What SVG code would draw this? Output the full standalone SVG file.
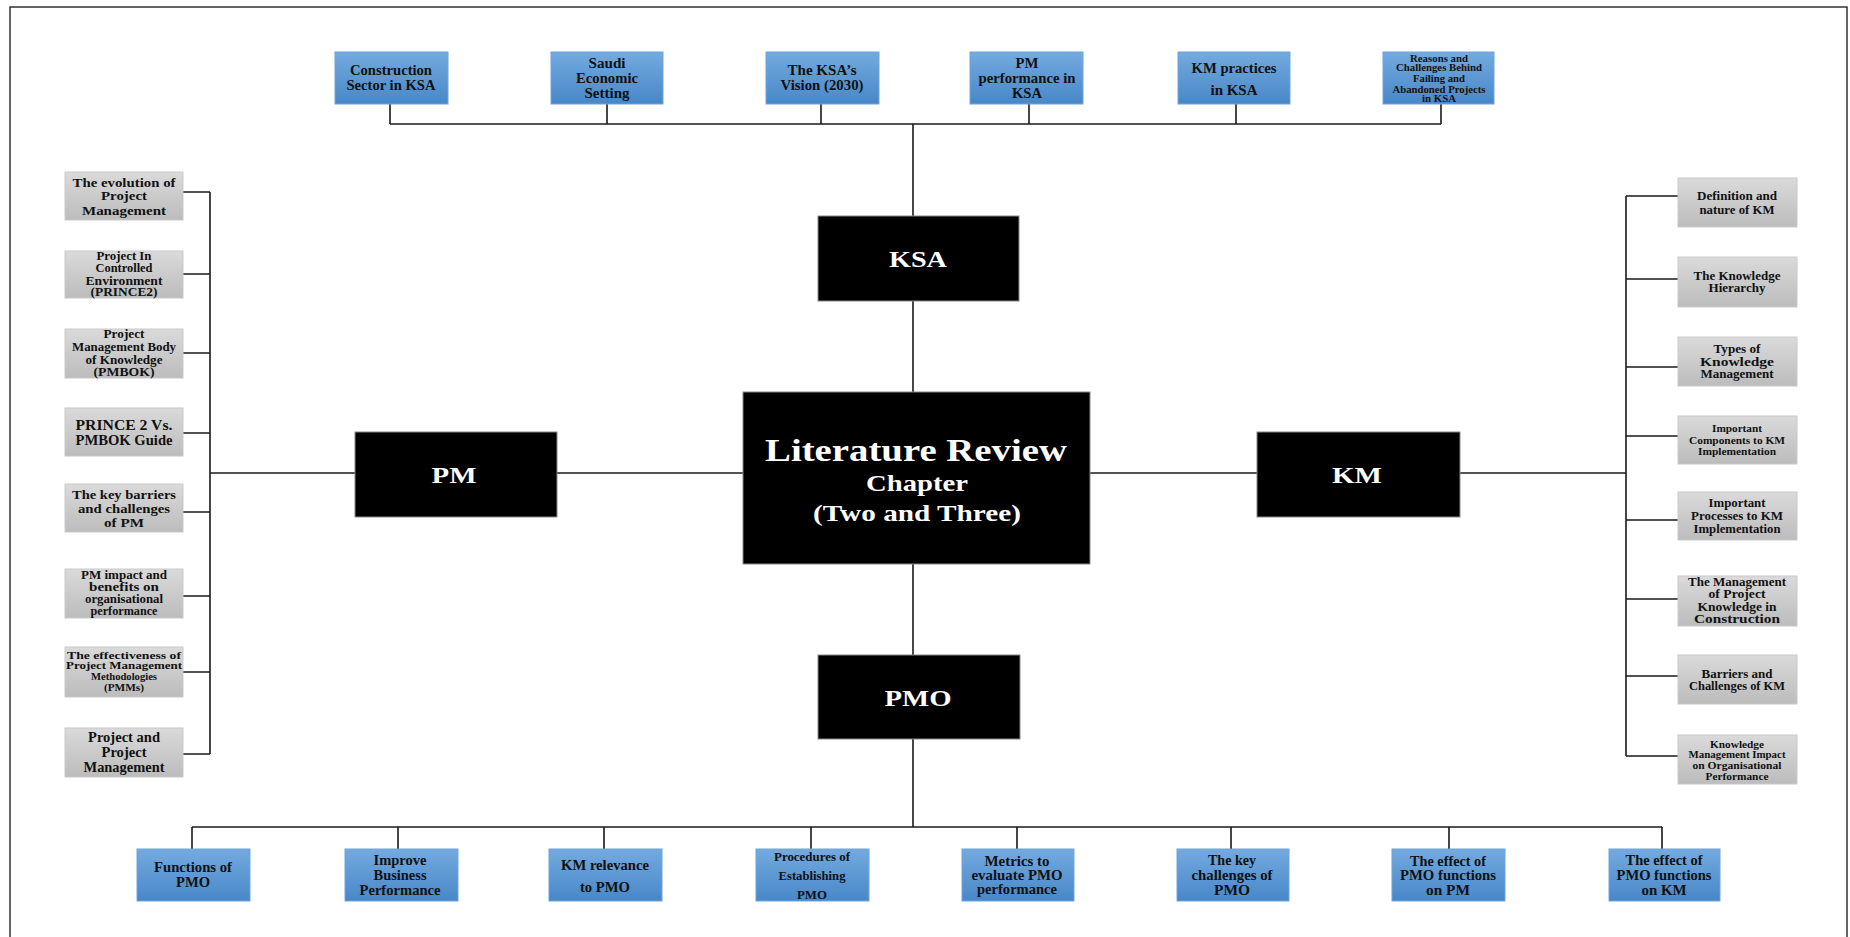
<svg xmlns="http://www.w3.org/2000/svg" width="1850" height="937" viewBox="0 0 1850 937">
  <defs>
    <linearGradient id="gBlue" x1="0" y1="0" x2="0" y2="1">
      <stop offset="0" stop-color="#74aadf"/>
      <stop offset="1" stop-color="#4787c8"/>
    </linearGradient>
    <linearGradient id="gGray" x1="0" y1="0" x2="0" y2="1">
      <stop offset="0" stop-color="#dadada"/>
      <stop offset="1" stop-color="#bcbcbc"/>
    </linearGradient>
    <style>
      .frame { fill: none; stroke: #333; stroke-width: 1.5; }
      .blue { fill: url(#gBlue); stroke: #6ea4da; stroke-width: 1; }
      .gray { fill: url(#gGray); stroke: #c9c9c9; stroke-width: 1; }
      .dark { fill: #000; stroke: #888; stroke-width: 1; }
      .conn path { fill: none; stroke: #1a1a1a; stroke-width: 1.6; }
      text { font-family: "Liberation Serif", "Times New Roman", serif; font-weight: bold; text-anchor: middle; fill: #111; }
      .w { fill: #fff; }
    </style>
  </defs>

  <rect width="1850" height="937" fill="#fff"/>
  <path class="frame" d="M10 937 V7 H1847 V937"/>

  <!-- connectors -->
  <g class="conn" id="connectors">
    <!-- top bus -->
    <path d="M390 124 H1441"/>
    <path d="M390 104 V124 M607 104 V124 M821 104 V124 M1029 104 V124 M1236 104 V124 M1441 104 V124"/>
    <path d="M913 124 V216"/>
    <path d="M913 301 V392"/>
    <!-- bottom bus -->
    <path d="M913 564 V655"/>
    <path d="M913 739 V827"/>
    <path d="M192 827 H1662"/>
    <path d="M192 827 V849 M398 827 V849 M604 827 V849 M811 827 V849 M1017 827 V849 M1231 827 V849 M1449 827 V849 M1662 827 V849"/>
    <!-- PM branch -->
    <path d="M557 473 H743"/>
    <path d="M210 473 H355"/>
    <path d="M210 192 V754"/>
    <path d="M183 192 H210 M183 274 H210 M183 353 H210 M183 433 H210 M183 512 H210 M183 596 H210 M183 672 H210 M183 754 H210"/>
    <!-- KM branch -->
    <path d="M1090 473 H1257"/>
    <path d="M1460 473 H1626"/>
    <path d="M1626 196 V756"/>
    <path d="M1626 196 H1678 M1626 279 H1678 M1626 367 H1678 M1626 436 H1678 M1626 520 H1678 M1626 599 H1678 M1626 676 H1678 M1626 756 H1678"/>
  </g>

  <!-- central node -->
  <g id="literature-review">
    <rect class="dark" x="743" y="392" width="347" height="172"/>
    <text class="w" x="916" y="461" font-size="32" textLength="302" lengthAdjust="spacingAndGlyphs">Literature Review</text>
    <text class="w" x="917" y="491" font-size="23" textLength="102" lengthAdjust="spacingAndGlyphs">Chapter</text>
    <text class="w" x="917" y="521" font-size="23" textLength="208" lengthAdjust="spacingAndGlyphs">(Two and Three)</text>
  </g>

  <g id="ksa">
    <rect class="dark" x="818" y="216" width="201" height="85"/>
    <text class="w" x="918" y="267" font-size="23" textLength="58" lengthAdjust="spacingAndGlyphs">KSA</text>
  </g>
  <g id="pm">
    <rect class="dark" x="355" y="432" width="202" height="85"/>
    <text class="w" x="454" y="483" font-size="23" textLength="45" lengthAdjust="spacingAndGlyphs">PM</text>
  </g>
  <g id="km">
    <rect class="dark" x="1257" y="432" width="203" height="85"/>
    <text class="w" x="1357" y="483" font-size="23" textLength="50" lengthAdjust="spacingAndGlyphs">KM</text>
  </g>
  <g id="pmo">
    <rect class="dark" x="818" y="655" width="202" height="84"/>
    <text class="w" x="918" y="706" font-size="23" textLength="67" lengthAdjust="spacingAndGlyphs">PMO</text>
  </g>

  <!-- KSA topics -->
  <g id="ksa-construction" font-size="14">
    <rect class="blue" x="335" y="52" width="113" height="52"/>
    <text x="391" y="75" textLength="82" lengthAdjust="spacingAndGlyphs">Construction</text>
    <text x="391" y="89.5" textLength="89" lengthAdjust="spacingAndGlyphs">Sector in KSA</text>
  </g>
  <g id="ksa-economic" font-size="14">
    <rect class="blue" x="551" y="52" width="112" height="52"/>
    <text x="607" y="68" textLength="37" lengthAdjust="spacingAndGlyphs">Saudi</text>
    <text x="607" y="83" textLength="62" lengthAdjust="spacingAndGlyphs">Economic</text>
    <text x="607" y="97.5" textLength="45" lengthAdjust="spacingAndGlyphs">Setting</text>
  </g>
  <g id="ksa-vision" font-size="14">
    <rect class="blue" x="766" y="52" width="113" height="52"/>
    <text x="822" y="75" textLength="69" lengthAdjust="spacingAndGlyphs">The KSA’s</text>
    <text x="822" y="90" textLength="83" lengthAdjust="spacingAndGlyphs">Vision (2030)</text>
  </g>
  <g id="ksa-pm-performance" font-size="14">
    <rect class="blue" x="970" y="52" width="113" height="52"/>
    <text x="1027" y="68" textLength="23" lengthAdjust="spacingAndGlyphs">PM</text>
    <text x="1027" y="83" textLength="97" lengthAdjust="spacingAndGlyphs">performance in</text>
    <text x="1027" y="98" textLength="30" lengthAdjust="spacingAndGlyphs">KSA</text>
  </g>
  <g id="ksa-km-practices" font-size="14">
    <rect class="blue" x="1178" y="52" width="112" height="52"/>
    <text x="1234" y="73" textLength="85" lengthAdjust="spacingAndGlyphs">KM practices</text>
    <text x="1234" y="94.5" textLength="47" lengthAdjust="spacingAndGlyphs">in KSA</text>
  </g>
  <g id="ksa-failing-projects" font-size="10">
    <rect class="blue" x="1383" y="52" width="111" height="52"/>
    <text x="1439" y="61.5" textLength="58" lengthAdjust="spacingAndGlyphs">Reasons and</text>
    <text x="1439" y="71" textLength="86" lengthAdjust="spacingAndGlyphs">Challenges Behind</text>
    <text x="1439" y="82" textLength="52" lengthAdjust="spacingAndGlyphs">Failing and</text>
    <text x="1439" y="93" textLength="93" lengthAdjust="spacingAndGlyphs">Abandoned Projects</text>
    <text x="1439" y="102" textLength="34" lengthAdjust="spacingAndGlyphs">in KSA</text>
  </g>

  <!-- PMO topics -->
  <g id="pmo-functions" font-size="14">
    <rect class="blue" x="137" y="849" width="113" height="52"/>
    <text x="193" y="872" textLength="78" lengthAdjust="spacingAndGlyphs">Functions of</text>
    <text x="193" y="886.5" textLength="34" lengthAdjust="spacingAndGlyphs">PMO</text>
  </g>
  <g id="pmo-business" font-size="14">
    <rect class="blue" x="345" y="849" width="113" height="52"/>
    <text x="400" y="865" textLength="53" lengthAdjust="spacingAndGlyphs">Improve</text>
    <text x="400" y="880" textLength="53" lengthAdjust="spacingAndGlyphs">Business</text>
    <text x="400" y="894.5" textLength="81" lengthAdjust="spacingAndGlyphs">Performance</text>
  </g>
  <g id="pmo-km-relevance" font-size="14">
    <rect class="blue" x="549" y="849" width="113" height="52"/>
    <text x="605" y="870" textLength="88" lengthAdjust="spacingAndGlyphs">KM relevance</text>
    <text x="605" y="892" textLength="50" lengthAdjust="spacingAndGlyphs">to PMO</text>
  </g>
  <g id="pmo-procedures" font-size="12">
    <rect class="blue" x="756" y="849" width="113" height="52"/>
    <text x="812" y="861" textLength="76" lengthAdjust="spacingAndGlyphs">Procedures of</text>
    <text x="812" y="880" textLength="67" lengthAdjust="spacingAndGlyphs">Establishing</text>
    <text x="812" y="899" textLength="30" lengthAdjust="spacingAndGlyphs">PMO</text>
  </g>
  <g id="pmo-metrics" font-size="14">
    <rect class="blue" x="962" y="849" width="112" height="52"/>
    <text x="1017" y="866" textLength="65" lengthAdjust="spacingAndGlyphs">Metrics to</text>
    <text x="1017" y="880" textLength="91" lengthAdjust="spacingAndGlyphs">evaluate PMO</text>
    <text x="1017" y="894" textLength="80" lengthAdjust="spacingAndGlyphs">performance</text>
  </g>
  <g id="pmo-challenges" font-size="14">
    <rect class="blue" x="1177" y="849" width="112" height="52"/>
    <text x="1232" y="865" textLength="48" lengthAdjust="spacingAndGlyphs">The key</text>
    <text x="1232" y="880" textLength="81" lengthAdjust="spacingAndGlyphs">challenges of</text>
    <text x="1232" y="894.5" textLength="36" lengthAdjust="spacingAndGlyphs">PMO</text>
  </g>
  <g id="pmo-effect-pm" font-size="14">
    <rect class="blue" x="1392" y="849" width="113" height="52"/>
    <text x="1448" y="866" textLength="76" lengthAdjust="spacingAndGlyphs">The effect of</text>
    <text x="1448" y="880" textLength="96" lengthAdjust="spacingAndGlyphs">PMO functions</text>
    <text x="1448" y="894.5" textLength="44" lengthAdjust="spacingAndGlyphs">on PM</text>
  </g>
  <g id="pmo-effect-km" font-size="14">
    <rect class="blue" x="1609" y="849" width="111" height="52"/>
    <text x="1664" y="865" textLength="77" lengthAdjust="spacingAndGlyphs">The effect of</text>
    <text x="1664" y="880" textLength="95" lengthAdjust="spacingAndGlyphs">PMO functions</text>
    <text x="1664" y="894.5" textLength="45" lengthAdjust="spacingAndGlyphs">on KM</text>
  </g>

  <!-- PM topics -->
  <g id="pm-evolution" font-size="13">
    <rect class="gray" x="65" y="172" width="118" height="48"/>
    <text x="124" y="187" textLength="103" lengthAdjust="spacingAndGlyphs">The evolution of</text>
    <text x="124" y="200" textLength="46" lengthAdjust="spacingAndGlyphs">Project</text>
    <text x="124" y="215" textLength="84" lengthAdjust="spacingAndGlyphs">Management</text>
  </g>
  <g id="pm-prince2" font-size="12">
    <rect class="gray" x="65" y="251" width="118" height="47"/>
    <text x="124" y="260" textLength="55" lengthAdjust="spacingAndGlyphs">Project In</text>
    <text x="124" y="272" textLength="57" lengthAdjust="spacingAndGlyphs">Controlled</text>
    <text x="124" y="284.5" textLength="77" lengthAdjust="spacingAndGlyphs">Environment</text>
    <text x="124" y="296" textLength="67" lengthAdjust="spacingAndGlyphs">(PRINCE2)</text>
  </g>
  <g id="pm-pmbok" font-size="12">
    <rect class="gray" x="65" y="329" width="118" height="49"/>
    <text x="124" y="338" textLength="41" lengthAdjust="spacingAndGlyphs">Project</text>
    <text x="124" y="350.5" textLength="104" lengthAdjust="spacingAndGlyphs">Management Body</text>
    <text x="124" y="364" textLength="77" lengthAdjust="spacingAndGlyphs">of Knowledge</text>
    <text x="124" y="376" textLength="61" lengthAdjust="spacingAndGlyphs">(PMBOK)</text>
  </g>
  <g id="pm-prince-vs-pmbok" font-size="14">
    <rect class="gray" x="65" y="408" width="118" height="48"/>
    <text x="124" y="429.5" textLength="97" lengthAdjust="spacingAndGlyphs">PRINCE 2 Vs.</text>
    <text x="124" y="444.5" textLength="97" lengthAdjust="spacingAndGlyphs">PMBOK Guide</text>
  </g>
  <g id="pm-barriers" font-size="13">
    <rect class="gray" x="65" y="484" width="118" height="48"/>
    <text x="124" y="498.5" textLength="104" lengthAdjust="spacingAndGlyphs">The key barriers</text>
    <text x="124" y="512.5" textLength="92" lengthAdjust="spacingAndGlyphs">and challenges</text>
    <text x="124" y="527" textLength="40" lengthAdjust="spacingAndGlyphs">of PM</text>
  </g>
  <g id="pm-impact" font-size="12">
    <rect class="gray" x="65" y="569" width="118" height="49"/>
    <text x="124" y="579" textLength="86" lengthAdjust="spacingAndGlyphs">PM impact and</text>
    <text x="124" y="591" textLength="70" lengthAdjust="spacingAndGlyphs">benefits on</text>
    <text x="124" y="603" textLength="78" lengthAdjust="spacingAndGlyphs">organisational</text>
    <text x="124" y="614.5" textLength="67" lengthAdjust="spacingAndGlyphs">performance</text>
  </g>
  <g id="pm-pmms" font-size="10">
    <rect class="gray" x="65" y="647" width="118" height="50"/>
    <text x="124" y="659" textLength="114" lengthAdjust="spacingAndGlyphs">The effectiveness of</text>
    <text x="124" y="669" textLength="116" lengthAdjust="spacingAndGlyphs">Project Management</text>
    <text x="124" y="680" textLength="66" lengthAdjust="spacingAndGlyphs">Methodologies</text>
    <text x="124" y="690.5" textLength="40" lengthAdjust="spacingAndGlyphs">(PMMs)</text>
  </g>
  <g id="pm-project-management" font-size="14">
    <rect class="gray" x="65" y="728" width="118" height="49"/>
    <text x="124" y="742" textLength="72" lengthAdjust="spacingAndGlyphs">Project and</text>
    <text x="124" y="757" textLength="45" lengthAdjust="spacingAndGlyphs">Project</text>
    <text x="124" y="772" textLength="81" lengthAdjust="spacingAndGlyphs">Management</text>
  </g>

  <!-- KM topics -->
  <g id="km-definition" font-size="13">
    <rect class="gray" x="1678" y="178" width="119" height="49"/>
    <text x="1737" y="200" textLength="80" lengthAdjust="spacingAndGlyphs">Definition and</text>
    <text x="1737" y="214" textLength="75" lengthAdjust="spacingAndGlyphs">nature of KM</text>
  </g>
  <g id="km-hierarchy" font-size="13">
    <rect class="gray" x="1678" y="257" width="119" height="50"/>
    <text x="1737" y="280" textLength="87" lengthAdjust="spacingAndGlyphs">The Knowledge</text>
    <text x="1737" y="292" textLength="57" lengthAdjust="spacingAndGlyphs">Hierarchy</text>
  </g>
  <g id="km-types" font-size="13">
    <rect class="gray" x="1678" y="337" width="119" height="49"/>
    <text x="1737" y="352.5" textLength="47" lengthAdjust="spacingAndGlyphs">Types of</text>
    <text x="1737" y="366" textLength="74" lengthAdjust="spacingAndGlyphs">Knowledge</text>
    <text x="1737" y="378" textLength="73" lengthAdjust="spacingAndGlyphs">Management</text>
  </g>
  <g id="km-components" font-size="11">
    <rect class="gray" x="1678" y="416" width="119" height="48"/>
    <text x="1737" y="432" textLength="50" lengthAdjust="spacingAndGlyphs">Important</text>
    <text x="1737" y="443.5" textLength="96" lengthAdjust="spacingAndGlyphs">Components to KM</text>
    <text x="1737" y="455" textLength="78" lengthAdjust="spacingAndGlyphs">Implementation</text>
  </g>
  <g id="km-processes" font-size="13">
    <rect class="gray" x="1678" y="492" width="119" height="48"/>
    <text x="1737" y="507" textLength="57" lengthAdjust="spacingAndGlyphs">Important</text>
    <text x="1737" y="520" textLength="92" lengthAdjust="spacingAndGlyphs">Processes to KM</text>
    <text x="1737" y="533" textLength="87" lengthAdjust="spacingAndGlyphs">Implementation</text>
  </g>
  <g id="km-construction" font-size="12.5">
    <rect class="gray" x="1678" y="576" width="119" height="50"/>
    <text x="1737" y="585.5" textLength="98" lengthAdjust="spacingAndGlyphs">The Management</text>
    <text x="1737" y="598" textLength="57" lengthAdjust="spacingAndGlyphs">of Project</text>
    <text x="1737" y="611" textLength="79" lengthAdjust="spacingAndGlyphs">Knowledge in</text>
    <text x="1737" y="623" textLength="86" lengthAdjust="spacingAndGlyphs">Construction</text>
  </g>
  <g id="km-barriers" font-size="13">
    <rect class="gray" x="1678" y="655" width="119" height="49"/>
    <text x="1737" y="677.5" textLength="71" lengthAdjust="spacingAndGlyphs">Barriers and</text>
    <text x="1737" y="690" textLength="96" lengthAdjust="spacingAndGlyphs">Challenges of KM</text>
  </g>
  <g id="km-impact" font-size="10.5">
    <rect class="gray" x="1678" y="735" width="119" height="49"/>
    <text x="1737" y="747.5" textLength="54" lengthAdjust="spacingAndGlyphs">Knowledge</text>
    <text x="1737" y="758" textLength="97" lengthAdjust="spacingAndGlyphs">Management Impact</text>
    <text x="1737" y="768.5" textLength="89" lengthAdjust="spacingAndGlyphs">on Organisational</text>
    <text x="1737" y="780" textLength="63" lengthAdjust="spacingAndGlyphs">Performance</text>
  </g>
</svg>
